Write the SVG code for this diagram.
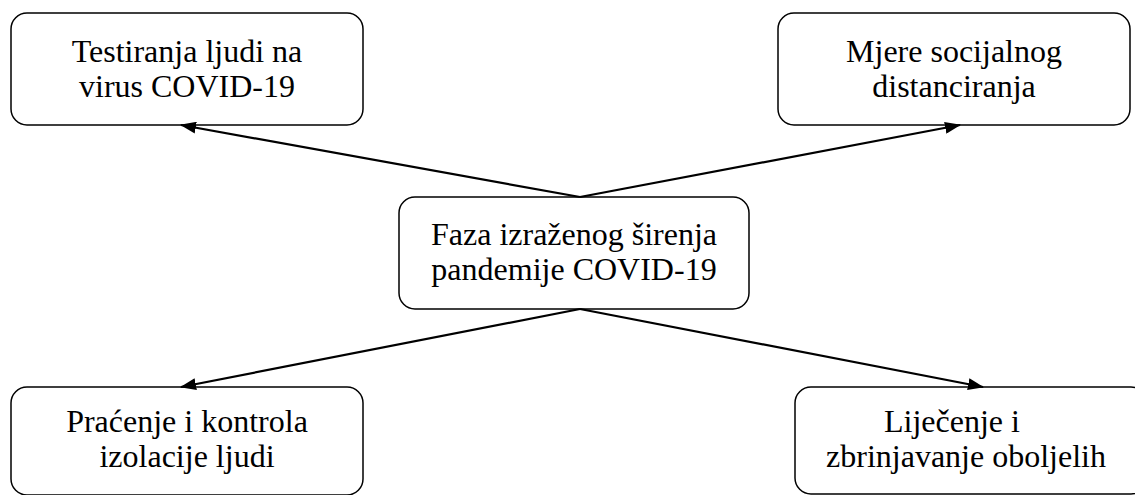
<svg xmlns="http://www.w3.org/2000/svg" width="1135" height="495" viewBox="0 0 1135 495">
<style>
.box{fill:#fff;stroke:#000;stroke-width:1.5}
.t{font-family:"Liberation Serif","Times New Roman",serif;font-size:32px;fill:#000;text-anchor:middle}
.c{stroke:#000;stroke-width:2.2;fill:none;marker-end:url(#ah)}
</style>
<defs>
<marker id="ah" markerWidth="16" markerHeight="12" refX="15" refY="6" orient="auto" markerUnits="userSpaceOnUse">
<path d="M0,0 L16,6 L0,12 Z" fill="#000"/>
</marker>
</defs>
<rect width="1135" height="495" fill="#fff"/>
<g id="n1"><rect class="box" x="11" y="13" width="352" height="112" rx="16"/>
<text class="t" x="187" y="62">Testiranja ljudi na</text>
<text class="t" x="187" y="97">virus COVID-19</text></g>
<g id="n2"><rect class="box" x="778" y="13" width="352" height="112" rx="16"/>
<text class="t" x="954" y="62">Mjere socijalnog</text>
<text class="t" x="954" y="97">distanciranja</text></g>
<g id="n3"><rect class="box" x="399" y="197" width="350" height="112" rx="16"/>
<text class="t" x="574" y="245">Faza izraženog širenja</text>
<text class="t" x="574" y="280">pandemije COVID-19</text></g>
<g id="n4"><rect class="box" x="11" y="387" width="352" height="108" rx="16"/>
<text class="t" x="187" y="432">Praćenje i kontrola</text>
<text class="t" x="187" y="467">izolacije ljudi</text></g>
<g id="n5"><rect class="box" x="795" y="387" width="352" height="107" rx="16"/>
<text class="t" x="952" y="432">Liječenje i</text>
<text class="t" x="966" y="467">zbrinjavanje oboljelih</text></g>
<g id="connectors">
<line class="c" x1="580" y1="197" x2="181" y2="125"/>
<line class="c" x1="580" y1="197" x2="960" y2="125"/>
<line class="c" x1="580" y1="309" x2="181" y2="387"/>
<line class="c" x1="580" y1="309" x2="983" y2="387"/>
</g>
</svg>
